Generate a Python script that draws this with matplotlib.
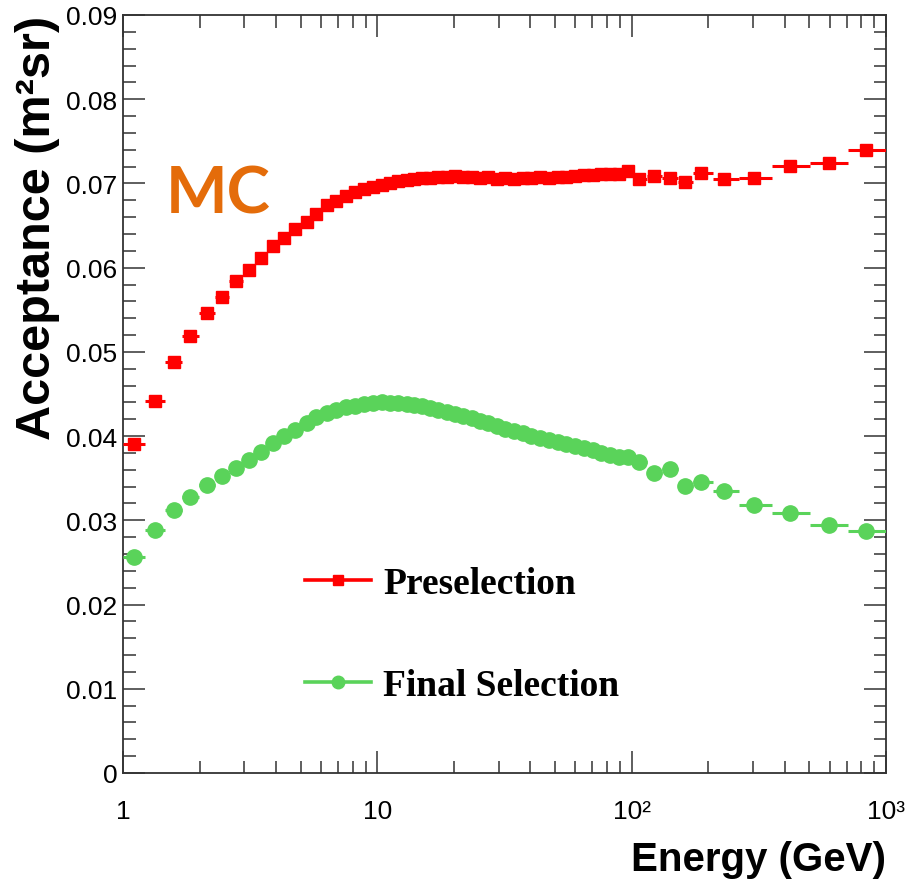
import numpy as np
import matplotlib
matplotlib.use("Agg")
import matplotlib.pyplot as plt
from matplotlib import font_manager
from matplotlib.lines import Line2D
from matplotlib.ticker import FixedLocator, FuncFormatter, MultipleLocator, NullFormatter

# energy bin centres (GeV)
energy = [1.105, 1.336, 1.587, 1.834, 2.140, 2.451, 2.782, 3.130, 3.488, 3.890,
          4.297, 4.748, 5.291, 5.742, 6.342, 6.880, 7.532, 8.173, 8.867, 9.618,
          10.43, 11.22, 12.06, 13.09, 13.94, 14.99, 16.12, 17.33, 18.80, 20.21,
          21.73, 23.57, 25.33, 27.25, 29.56, 31.78, 34.47, 37.41, 40.22, 43.62,
          47.33, 51.35, 55.21, 59.90, 65.00, 70.51, 75.81, 82.25, 89.23, 96.81,
          106.9, 122.5, 141.6, 162.2, 187.5, 230.8, 302.9, 419.7, 597.5, 835.4]

preselection = [0.0391, 0.0442, 0.0488, 0.0519, 0.0546, 0.0565, 0.0584, 0.0597, 0.0611, 0.0626,
                0.0635, 0.0646, 0.0654, 0.0664, 0.0674, 0.0679, 0.0685, 0.0690, 0.0693, 0.0696,
                0.0698, 0.0700, 0.0703, 0.0704, 0.0705, 0.0706, 0.0706, 0.0708, 0.0708, 0.0709,
                0.0708, 0.0708, 0.0706, 0.0708, 0.0705, 0.0706, 0.0705, 0.0706, 0.0706, 0.0708,
                0.0706, 0.0708, 0.0708, 0.0709, 0.0710, 0.0710, 0.0711, 0.0711, 0.0711, 0.0715,
                0.0705, 0.0709, 0.0707, 0.0702, 0.0712, 0.0705, 0.0706, 0.0721, 0.0724, 0.0740]

final_selection = [0.0257, 0.0289, 0.0312, 0.0328, 0.0342, 0.0353, 0.0362, 0.0372, 0.0381, 0.0392,
                   0.0400, 0.0407, 0.0416, 0.0423, 0.0427, 0.0431, 0.0435, 0.0436, 0.0438, 0.0439,
                   0.0440, 0.0439, 0.0439, 0.0438, 0.0437, 0.0436, 0.0433, 0.0431, 0.0429, 0.0426,
                   0.0424, 0.0422, 0.0418, 0.0416, 0.0412, 0.0408, 0.0406, 0.0404, 0.0400, 0.0398,
                   0.0395, 0.0393, 0.0391, 0.0388, 0.0386, 0.0384, 0.0380, 0.0378, 0.0375, 0.0375,
                   0.0369, 0.0356, 0.0361, 0.0341, 0.0346, 0.0335, 0.0318, 0.0309, 0.0294, 0.0287]

x_tick_values = [1, 10, 100, 1000]
x_tick_labels = ["1", "10", "10\u00b2", "10\u00b3"]


def have_font(name):
    try:
        font_manager.findfont(font_manager.FontProperties(family=name), fallback_to_default=False)
        return True
    except ValueError:
        return False


narrow = have_font("Liberation Sans Narrow")
tick_font = "Liberation Sans Narrow" if narrow else "Liberation Sans"
tick_size = 22 if narrow else 19
xlab_size = 33 if narrow else 29

fig = plt.figure(figsize=(9.05, 8.87), dpi=100)
ax = fig.add_axes([123 / 905, 113 / 887, 763 / 905, 758 / 887])

# bin edges halfway (in log) between neighbouring centres
e = np.array(energy)
edges = np.concatenate([[1.0], np.sqrt(e[1:] * e[:-1]), [1000.0]])
xerr = [e - edges[:-1], edges[1:] - e]

red = "#ff0000"
green = "#5ad35a"
ax.errorbar(e, preselection, xerr=xerr, fmt="s", color=red, mec=red, ms=8.5,
            elinewidth=2.2, capsize=0, zorder=3)
ax.errorbar(e, final_selection, xerr=xerr, fmt="o", color=green, mec=green, ms=11,
            elinewidth=2.2, capsize=0, zorder=3)

ax.set_xscale("log")
ax.set_xlim(1, 1000)
ax.set_ylim(0, 0.09)

ax.xaxis.set_major_locator(FixedLocator(x_tick_values))
ax.xaxis.set_major_formatter(FuncFormatter(lambda v, p: x_tick_labels[x_tick_values.index(int(round(v)))]
                                           if int(round(v)) in x_tick_values else ""))
ax.xaxis.set_minor_locator(FixedLocator([m * 10 ** d for d in range(3) for m in range(2, 10)]))
ax.xaxis.set_minor_formatter(NullFormatter())
ax.yaxis.set_major_locator(MultipleLocator(0.01))
ax.yaxis.set_minor_locator(MultipleLocator(0.002))
ax.yaxis.set_major_formatter(FuncFormatter(lambda v, p: "0" if abs(v) < 1e-9 else f"{v:.2f}"))

frame = "#333333"
for s in ax.spines.values():
    s.set_color(frame)
    s.set_linewidth(1.3)
ax.tick_params(which="both", direction="in", top=True, right=True, color=frame, width=1.1)
ax.tick_params(which="major", length=16)
ax.tick_params(which="minor", length=9)
ax.tick_params(axis="y", pad=4)
ax.tick_params(axis="x", pad=19)
for lab in ax.get_xticklabels() + ax.get_yticklabels():
    lab.set_fontfamily(tick_font)
    lab.set_fontsize(tick_size)
    lab.set_color("black")

ax.set_xlabel("Energy (GeV)", fontfamily=tick_font, fontweight="bold", fontsize=xlab_size,
              ha="right", va="center")
ax.xaxis.set_label_coords(1.0, -0.113)
ax.set_ylabel("Acceptance (m\u00b2sr)", fontfamily="Liberation Sans", fontweight="bold",
              fontsize=35)
ax.yaxis.label.set_rotation_mode("anchor")
ax.yaxis.label.set_ha("right")
ax.yaxis.label.set_va("center")
ax.yaxis.set_label_coords(-0.112, 1.0)

ax.text(0.1245, 0.764, "MC", transform=ax.transAxes, color="#e46c0a", fontsize=47,
        fontweight="bold", fontfamily="Lato", ha="center", va="center")

handles = [Line2D([], [], color=red, marker="s", ms=7.5, lw=2.6),
           Line2D([], [], color=green, marker="o", ms=9, lw=2.6)]
ax.legend(handles, ["Preselection", "Final Selection"], loc="center left",
          bbox_to_anchor=(0.2385, 0.183), frameon=False, borderpad=0, borderaxespad=0,
          handlelength=1.75, handletextpad=0.33, labelspacing=1.78, numpoints=1,
          prop=dict(family="Liberation Serif", weight="bold", size=27))

fig.savefig("out.png", dpi=100)
